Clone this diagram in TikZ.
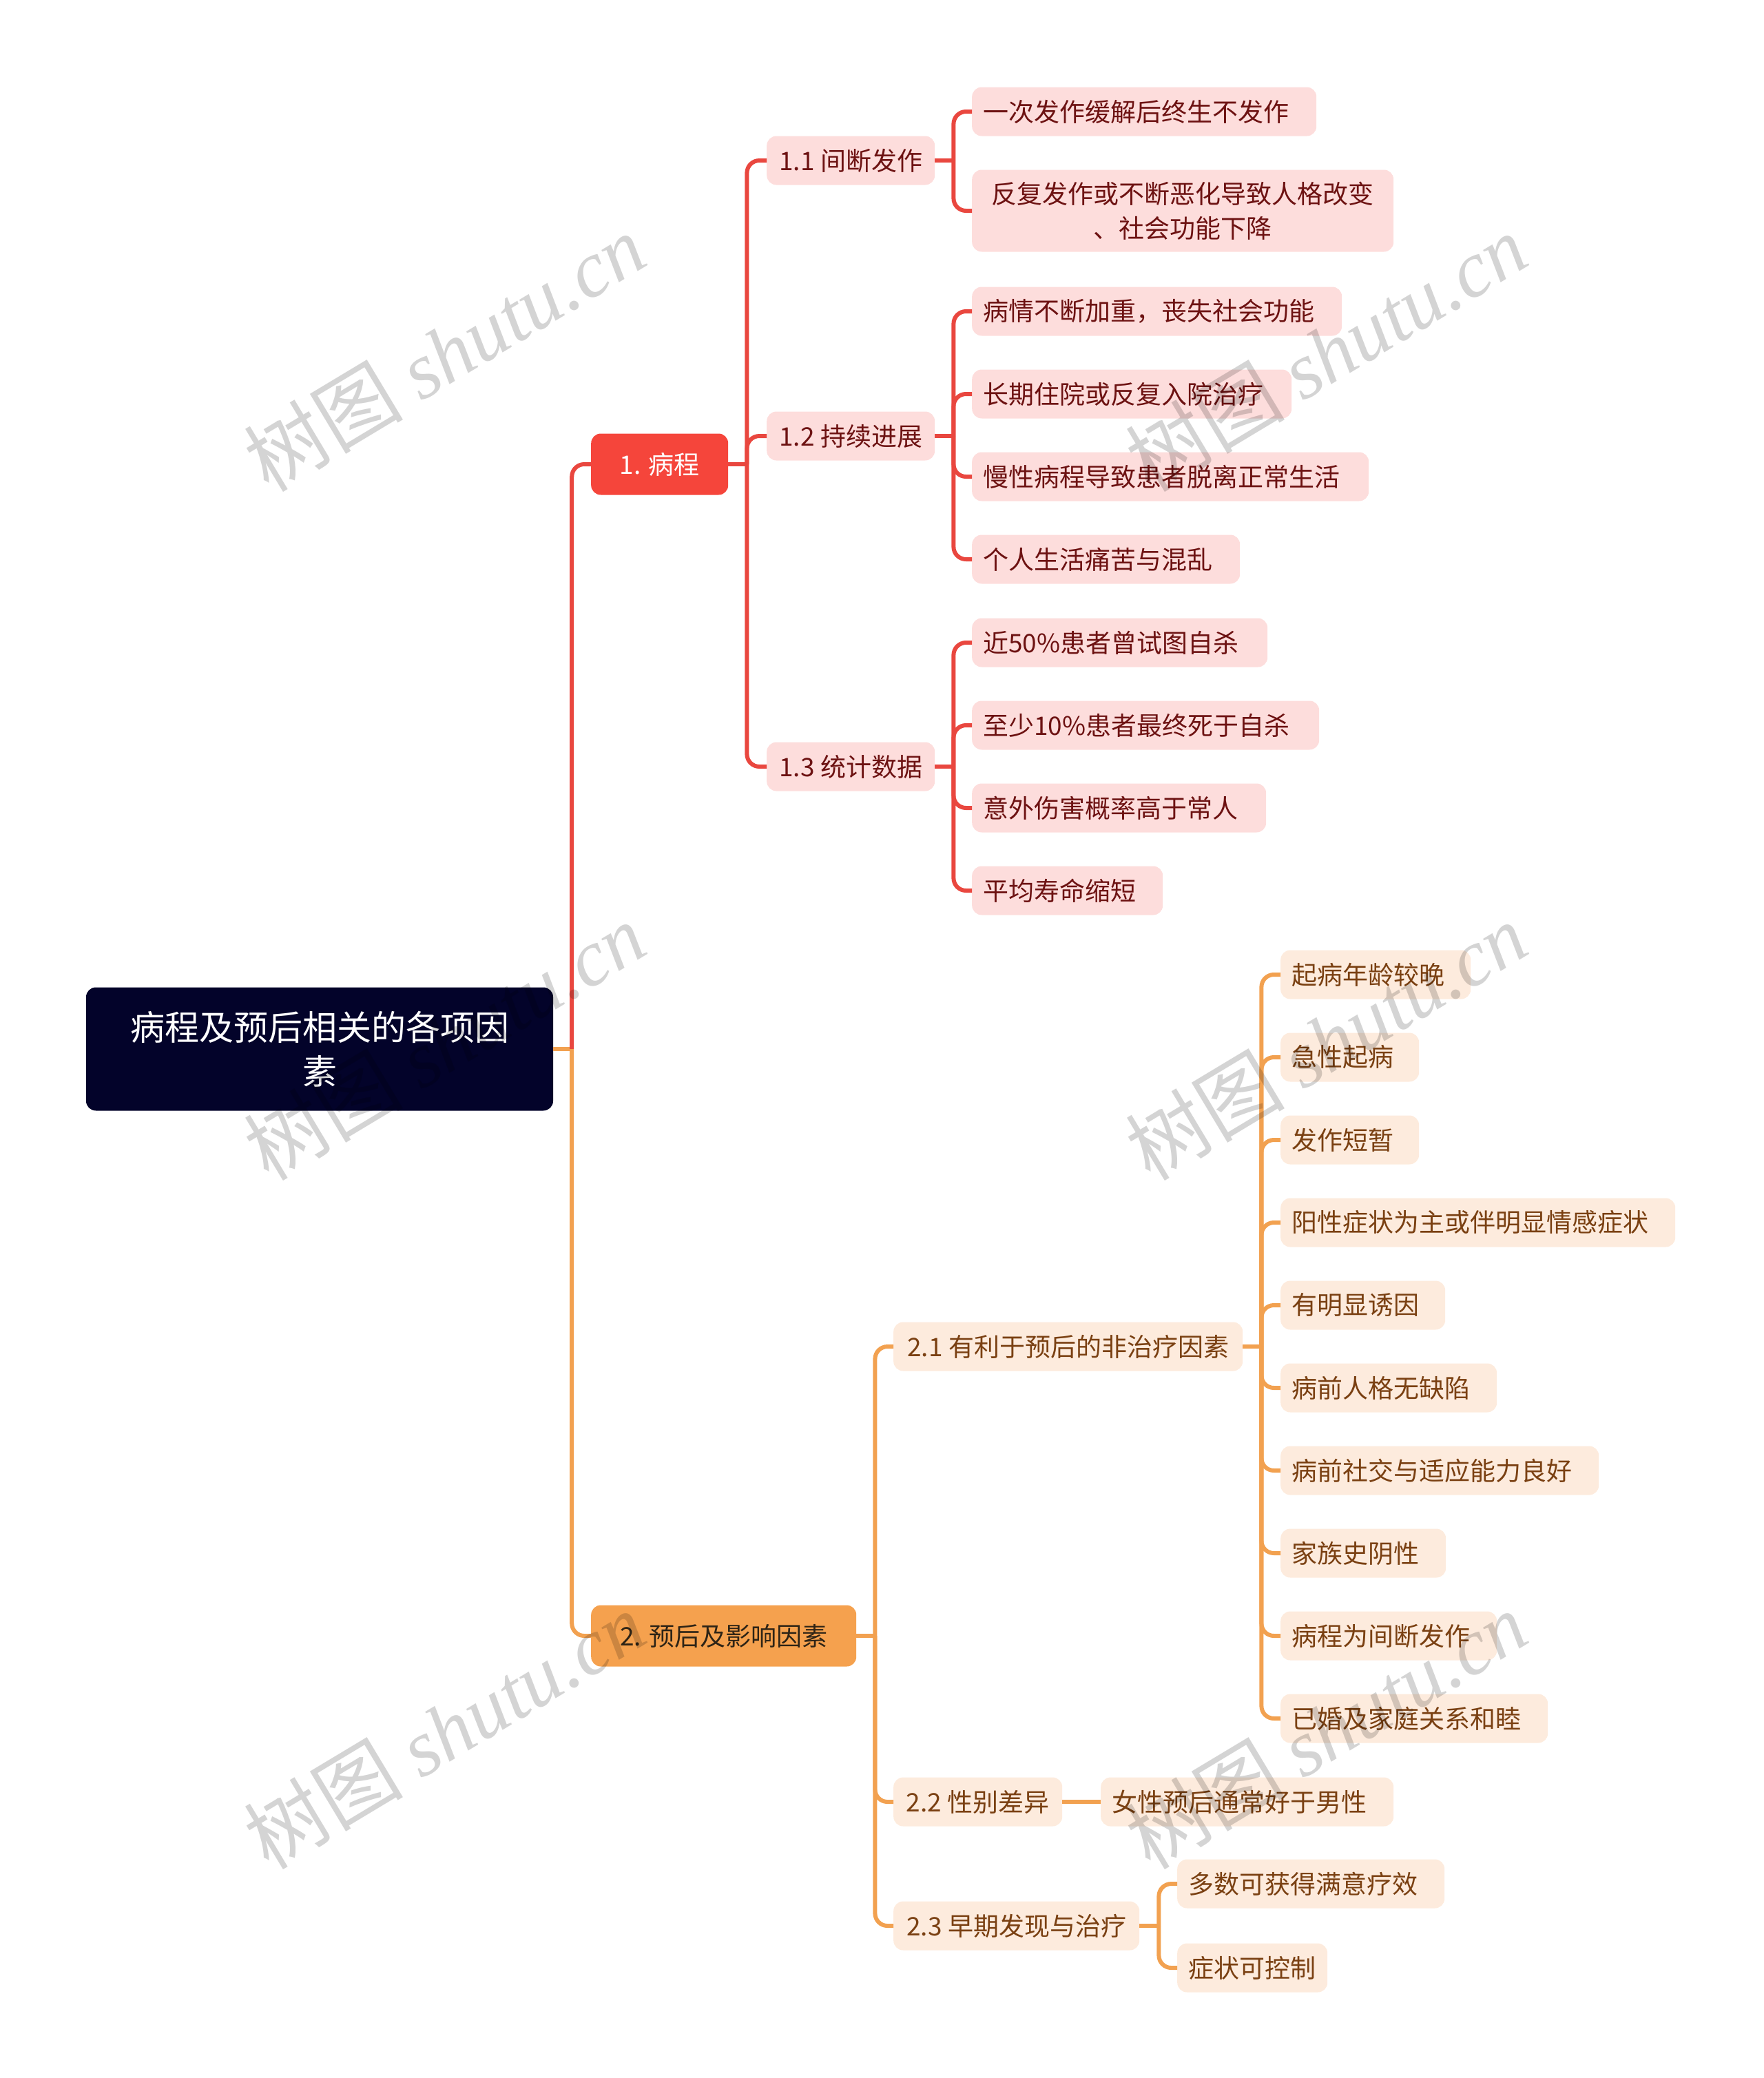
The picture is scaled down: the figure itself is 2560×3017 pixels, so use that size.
\documentclass[tikz,border=0pt]{standalone}
\usepackage{fontspec}
\setmainfont{Noto Sans CJK SC}
\newfontfamily\wmlat{Liberation Serif}
\newfontfamily\wmcjk{Noto Sans CJK SC}
\definecolor{rootc}{HTML}{03032A}
\definecolor{redl}{HTML}{E9473F}
\definecolor{orgl}{HTML}{F2A150}
\definecolor{n1c}{HTML}{F5453B}
\definecolor{n2c}{HTML}{F5A14E}
\definecolor{pinkc}{HTML}{FDDDDC}
\definecolor{peachc}{HTML}{FDEBDD}
\definecolor{maroonc}{HTML}{6D1212}
\definecolor{brownc}{HTML}{7A4012}
\definecolor{darkc}{HTML}{2E2416}
\begin{document}
\begin{tikzpicture}[x=1pt,y=-1pt,
  base/.style={rounded corners=14pt, inner ysep=0pt, minimum height=71pt, font=\fontsize{37}{48}\selectfont},
  leafr/.style={base, fill=pinkc, text=maroonc, inner xsep=16pt, align=left, anchor=west},
  leafo/.style={base, fill=peachc, text=brownc, inner xsep=16pt, align=left, anchor=west},
  midr/.style={base, fill=pinkc, text=maroonc, inner xsep=0pt, anchor=west},
  mido/.style={base, fill=peachc, text=brownc, inner xsep=0pt, anchor=west},
  rootbox/.style={fill=rootc, text=white, rounded corners=14pt, minimum width=678pt, minimum height=179pt, align=center, inner sep=0pt, font=\fontsize{50}{64}\selectfont},
  lonebox/.style={base, minimum height=89pt, inner xsep=0pt, anchor=west},
  rl/.style={draw=redl, line width=6pt, rounded corners=18pt},
  ol/.style={draw=orgl, line width=6pt, rounded corners=18pt},
  wm/.style={rotate=31, text=black, opacity=0.17, inner sep=0pt}
]
\useasboundingbox (0,0) rectangle (2560,3017);

% root
\node[rootbox] (root) at (464,1523) {病程及预后相关的各项因\\素};

% level 1
\node[lonebox, fill=n1c, text=white, minimum width=199pt] (n1) at (858,674) {1. 病程};
\node[lonebox, fill=n2c, text=darkc, minimum width=385pt] (n2) at (858,2375) {2. 预后及影响因素};

% level 2, branch 1
\node[midr, minimum width=244pt] (a11) at (1113,233) {1.1 间断发作};
\node[midr, minimum width=244pt] (a12) at (1113,633) {1.2 持续进展};
\node[midr, minimum width=244pt] (a13) at (1113,1113) {1.3 统计数据};

% leaves 1.1
\node[leafr, text width=468pt] (b1) at (1411,162) {一次发作缓解后终生不发作};
\node[leafr, text width=580pt, align=center, minimum height=119pt, font=\fontsize{37}{50}\selectfont] (b2) at (1411,306) {反复发作或不断恶化导致人格改变\\、社会功能下降};

% leaves 1.2
\node[leafr, text width=505pt] (c1) at (1411,452) {病情不断加重，丧失社会功能};
\node[leafr, text width=432pt] (c2) at (1411,572) {长期住院或反复入院治疗};
\node[leafr, text width=544pt] (c3) at (1411,692) {慢性病程导致患者脱离正常生活};
\node[leafr, text width=357pt] (c4) at (1411,812) {个人生活痛苦与混乱};

% leaves 1.3
\node[leafr, text width=397pt] (d1) at (1411,933) {近50\%患者曾试图自杀};
\node[leafr, text width=472pt] (d2) at (1411,1053) {至少10\%患者最终死于自杀};
\node[leafr, text width=395pt] (d3) at (1411,1173) {意外伤害概率高于常人};
\node[leafr, text width=245pt] (d4) at (1411,1293) {平均寿命缩短};

% level 2, branch 2
\node[mido, minimum width=507pt] (e1) at (1297,1955) {2.1 有利于预后的非治疗因素};
\node[mido, minimum width=245pt] (e2) at (1297,2616) {2.2 性别差异};
\node[mido, minimum width=357pt] (e3) at (1297,2796) {2.3 早期发现与治疗};

% leaves 2.1
\node[leafo, text width=244pt] (f1) at (1859,1415) {起病年龄较晚};
\node[leafo, text width=169pt] (f2) at (1859,1535) {急性起病};
\node[leafo, text width=169pt] (f3) at (1859,1655) {发作短暂};
\node[leafo, text width=541pt] (f4) at (1859,1775) {阳性症状为主或伴明显情感症状};
\node[leafo, text width=207pt] (f5) at (1859,1895) {有明显诱因};
\node[leafo, text width=282pt] (f6) at (1859,2015) {病前人格无缺陷};
\node[leafo, text width=430pt] (f7) at (1859,2135) {病前社交与适应能力良好};
\node[leafo, text width=208pt] (f8) at (1859,2255) {家族史阴性};
\node[leafo, text width=282pt] (f9) at (1859,2375) {病程为间断发作};
\node[leafo, text width=356pt] (f10) at (1859,2495) {已婚及家庭关系和睦};

% leaf 2.2
\node[leafo, text width=393pt] (g1) at (1598,2616) {女性预后通常好于男性};

% leaves 2.3
\node[leafo, text width=356pt] (h1) at (1709,2735) {多数可获得满意疗效};
\node[leafo, text width=186pt] (h2) at (1709,2857) {症状可控制};

% connectors: root
\draw[ol] (root.east) -- ++(27,0) coordinate (j0);
\draw[rl] (j0) |- (n1.west);
\draw[ol] (j0) |- (n2.west);

% branch 1
\draw[rl] (n1.east) -- ++(27,0) coordinate (j1);
\foreach \c in {a11,a12,a13} \draw[rl] (j1) |- (\c.west);
\draw[rl] (a11.east) -- ++(27,0) coordinate (j11);
\foreach \c in {b1,b2} \draw[rl] (j11) |- (\c.west);
\draw[rl] (a12.east) -- ++(27,0) coordinate (j12);
\foreach \c in {c1,c2,c3,c4} \draw[rl] (j12) |- (\c.west);
\draw[rl] (a13.east) -- ++(27,0) coordinate (j13);
\foreach \c in {d1,d2,d3,d4} \draw[rl] (j13) |- (\c.west);

% branch 2
\draw[ol] (n2.east) -- ++(27,0) coordinate (j2);
\foreach \c in {e1,e2,e3} \draw[ol] (j2) |- (\c.west);
\draw[ol] (e1.east) -- ++(27,0) coordinate (j21);
\foreach \c in {f1,f2,f3,f4,f5,f6,f7,f8,f9,f10} \draw[ol] (j21) |- (\c.west);
\draw[ol] (e2.east) -- (g1.west);
\draw[ol] (e3.east) -- ++(28,0) coordinate (j23);
\foreach \c in {h1,h2} \draw[ol] (j23) |- (\c.west);

% watermarks
\foreach \p/\n in {{(645,512)}/w1,{(1925,512)}/w2,{(645,1512)}/w3,{(1925,1512)}/w4,{(645,2512)}/w5,{(1925,2512)}/w6}
  \node[wm] (\n) at \p {\fontsize{116}{116}\selectfont\wmcjk 树图\ \wmlat\itshape shutu.cn};
\end{tikzpicture}
\end{document}
